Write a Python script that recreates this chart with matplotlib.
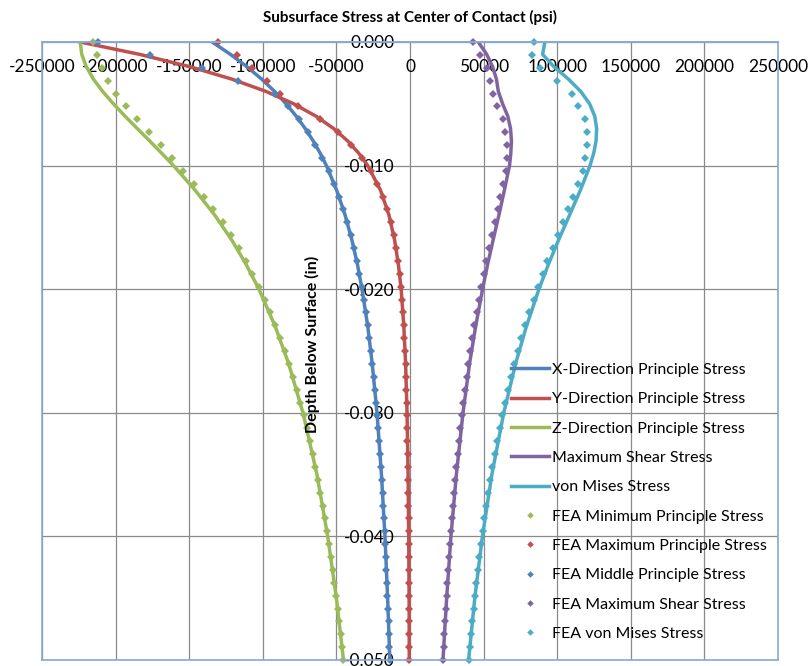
import numpy as np
import matplotlib.pyplot as plt
from matplotlib.ticker import FixedLocator, FuncFormatter

plt.rcParams['font.family'] = ['Lato', 'DejaVu Sans']
plt.rcParams['axes.unicode_minus'] = False

# Analytical (Hertz line contact) curves, depth in inches
depth_line = [0.000, 0.001, 0.002, 0.003, 0.004, 0.005, 0.006, 0.007, 0.008, 0.009,
              0.010, 0.012, 0.014, 0.016, 0.018, 0.020, 0.023, 0.026, 0.030, 0.035,
              0.040, 0.045, 0.050]
sx = [-134400, -122000, -110800, -100800, -92000, -84200, -77300, -71200, -65800, -61000,
      -56800, -49800, -44100, -39500, -35700, -32600, -28700, -25700, -22400, -19400,
      -17000, -15200, -13700]
sy = [-224000, -183700, -149500, -121100, -97800, -79000, -63900, -51900, -42400, -34800,
      -28700, -20000, -14300, -10500, -7900, -6000, -4200, -3000, -2000, -1300,
      -900, -600, -500]
sz = [-224000, -223000, -219900, -215100, -208800, -201500, -193600, -185300, -176900, -168700,
      -160700, -145900, -132700, -121200, -111300, -102600, -91600, -82500, -72700, -63200,
      -55900, -50000, -45200]
tau_max = [46400, 52100, 56100, 58700, 60000, 62900, 66400, 68300, 68900, 68500,
           67600, 64100, 60400, 56500, 52700, 49300, 44600, 40500, 36000, 31500,
           27800, 24900, 22400]
von_mises = [91600, 90100, 97800, 107600, 116000, 122000, 125500, 126800, 126400, 124800,
             122300, 115700, 108400, 101000, 94000, 87600, 79100, 71800, 63700, 55600,
             49200, 44000, 39800]

# FEA results along the centerline (48 elements over 0.050 in)
depth_fea = np.linspace(0.0, 0.050, 49)
fea_min = [-215200, -212600, -209500, -205000, -199700, -192900, -185200, -177100, -169300, -161500,
           -154100, -146900, -140000, -133500, -127300, -121600, -116400, -111600, -107000, -102700,
           -98800, -95100, -91500, -88300, -85100, -82300, -79600, -77000, -74600, -72300,
           -70100, -68100, -66100, -64300, -62600, -60900, -59300, -57800, -56400, -55100,
           -53800, -52500, -51300, -50200, -49100, -48100, -47100, -46100, -45200]
fea_max = [-130200, -117700, -107500, -97300, -88300, -75900, -60900, -49200, -39900, -32500,
           -26700, -22100, -18400, -15500, -13100, -11100, -9500, -8200, -7100, -6200,
           -5400, -4800, -4200, -3800, -3300, -3000, -2700, -2400, -2200, -2000,
           -1800, -1700, -1500, -1400, -1300, -1200, -1100, -1000, -900, -900,
           -800, -700, -700, -600, -600, -600, -500, -500, -500]
fea_mid = [-211700, -176600, -141500, -116600, -91700, -82700, -75700, -69600, -64200, -59500,
           -55300, -51600, -48300, -45300, -42700, -40300, -38200, -36300, -34500, -32900,
           -31400, -30100, -28800, -27700, -26600, -25600, -24700, -23800, -23000, -22300,
           -21600, -20900, -20300, -19700, -19100, -18600, -18100, -17700, -17200, -16800,
           -16400, -16000, -15600, -15300, -14900, -14600, -14300, -14000, -13700]
fea_shear = [43000, 47600, 52100, 54300, 56200, 58900, 63000, 64500, 65700, 65700,
             65200, 63400, 61100, 59600, 57600, 55700, 53800, 51900, 50100, 48400,
             46800, 45200, 43700, 42300, 41000, 39700, 38500, 37300, 36200, 35100,
             34200, 33200, 32300, 31500, 30600, 29900, 29100, 28400, 27700, 27100,
             26500, 25900, 25300, 24800, 24300, 23800, 23300, 22800, 22400]
fea_mises = [84400, 82600, 88300, 99600, 109800, 114300, 118900, 120000, 120000, 118900,
             117300, 114300, 110900, 107600, 104000, 100400, 96900, 93400, 90100, 86900,
             83900, 81000, 78300, 75700, 73200, 70800, 68600, 66600, 64600, 62700,
             60900, 59200, 57600, 56000, 54600, 53200, 51900, 50600, 49400, 48300,
             47100, 46100, 45100, 44100, 43200, 42300, 41400, 40600, 39800]

x_ticks = [-250000, -200000, -150000, -100000, -50000, 0, 50000, 100000, 150000, 200000, 250000]
y_ticks = [0.0, -0.01, -0.02, -0.03, -0.04, -0.05]

c_blue, c_red, c_green, c_purple, c_aqua = '#4f81bd', '#c0504d', '#9bbb59', '#8064a2', '#4bacc6'
border = '#88a9d8'

fig = plt.figure(figsize=(8.09, 6.66), dpi=100)
ax = fig.add_axes([42 / 809, 6 / 666, 736 / 809, 618 / 666])

y_line = -np.array(depth_line)
y_fea = -depth_fea

lw = 2.5
ax.plot(sx, y_line, color=c_blue, lw=lw, label='X-Direction Principle Stress')
ax.plot(sy, y_line, color=c_red, lw=lw, label='Y-Direction Principle Stress')
ax.plot(sz, y_line, color=c_green, lw=lw, label='Z-Direction Principle Stress')
ax.plot(tau_max, y_line, color=c_purple, lw=lw, label='Maximum Shear Stress')
ax.plot(von_mises, y_line, color=c_aqua, lw=lw, label='von Mises Stress')

mk = dict(ls='none', marker='D', ms=3.9, mew=0, clip_on=False)
ax.plot(fea_min, y_fea, color=c_green, label='FEA Minimum Principle Stress', **mk)
ax.plot(fea_max, y_fea, color=c_red, label='FEA Maximum Principle Stress', **mk)
ax.plot(fea_mid, y_fea, color=c_blue, label='FEA Middle Principle Stress', **mk)
ax.plot(fea_shear, y_fea, color=c_purple, label='FEA Maximum Shear Stress', **mk)
ax.plot(fea_mises, y_fea, color=c_aqua, label='FEA von Mises Stress', **mk)

ax.set_xlim(-250000, 250000)
ax.set_ylim(-0.05, 0.0)
ax.xaxis.set_major_locator(FixedLocator(x_ticks))
ax.yaxis.set_major_locator(FixedLocator(y_ticks))
ax.xaxis.set_major_formatter(FuncFormatter(lambda v, p: '%d' % v))
ax.yaxis.set_major_formatter(FuncFormatter(lambda v, p: '%.3f' % v))
ax.grid(True, color='#8a8a8a', lw=0.9)
ax.set_axisbelow(True)

# axes cross at the origin: x labels run under the surface line, y labels beside x = 0
ax.spines['bottom'].set_position(('data', 0.0))
ax.spines['left'].set_position(('data', 0.0))
ax.spines['left'].set_visible(False)
for side in ('bottom', 'top', 'right'):
    ax.spines[side].set_color(border)
    ax.spines[side].set_linewidth(1.2)
ax.plot([0, 0], [0, 1], transform=ax.transAxes, color=border, lw=1.2, clip_on=False)
ax.plot([0, 1], [0, 0], transform=ax.transAxes, color=border, lw=1.2, clip_on=False)
ax.tick_params(axis='x', length=0, pad=12, labelsize=12.5)
ax.tick_params(axis='y', length=0, pad=11, labelsize=12.5)

ax.text(0.367, 0.51, 'Depth Below Surface (in)', transform=ax.transAxes, rotation=90,
        ha='center', va='center', fontsize=11.5, fontweight='bold')
fig.text(0.507, 1 - 17 / 666, 'Subsurface Stress at Center of Contact (psi)',
         ha='center', va='center', fontsize=11, fontweight='bold')

ax.legend(loc='upper left', bbox_to_anchor=(0.626, 0.494), frameon=False, borderpad=0,
          fontsize=11.5, handlelength=2.4, handletextpad=0.2, labelspacing=0.95,
          markerscale=0.85)

fig.savefig('out.png', dpi=100)
